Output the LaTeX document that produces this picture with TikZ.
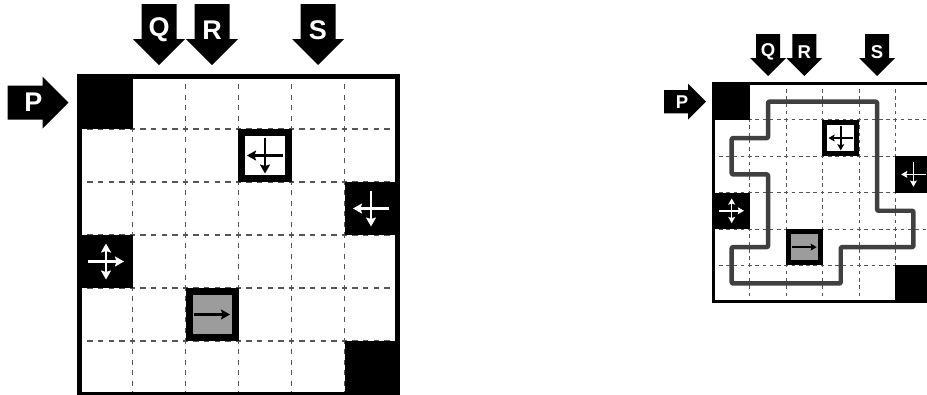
\documentclass[tikz,border=0pt]{standalone}
\usepackage{fontspec}
\setsansfont{Liberation Sans}
\usetikzlibrary{arrows.meta}
\definecolor{tileGray}{HTML}{9C9C9C}
\definecolor{routeGray}{HTML}{404040}
\definecolor{gridDash}{HTML}{555555}
\tikzset{
  gridline/.style={draw=gridDash, line width=1.1pt, dash pattern=on 5.3pt off 5.3pt, dash phase=2.65pt},
  framebox/.style={draw=black, line width=7pt},
  movearrow/.style={line width=2.3pt, >={Stealth[length=9pt,width=10pt,inset=1.5pt]}},
  signlabel/.style={text=white, font=\sffamily\bfseries\fontsize{27}{27}\selectfont, inner sep=0pt},
  route/.style={draw=routeGray, line width=6.5pt, line join=round, rounded corners=1.5pt}
}
% one board, cell = 53 units, origin at its top left corner
\newcommand\board[1]{%
  \fill[white] (0,0) rectangle (318,318);
  \foreach \k in {1,...,5} {
    \draw[gridline] (\k*53,0) -- (\k*53,318);
    \draw[gridline] (0,\k*53) -- (318,\k*53);
  }
  % dark cells
  \fill (0,0) rectangle (53,53);
  \fill (265,106) rectangle (318,159);
  \fill (0,159) rectangle (53,212);
  \fill (265,265) rectangle (318,318);
  % framed cells
  \filldraw[framebox, fill=white] (162,56.5) rectangle (208.5,102.5);
  \filldraw[framebox, fill=tileGray] (109.5,215.5) rectangle (155.5,261.5);
  % moves
  \draw[movearrow, ->] (203.5,79.5) -- (167.5,79.5);
  \draw[movearrow, ->] (185.5,61.5) -- (185.5,97.5);
  \draw[movearrow, ->, white] (309.5,132.5) -- (273.5,132.5);
  \draw[movearrow, ->, white] (291.5,114.5) -- (291.5,150.5);
  \draw[movearrow, ->, white] (8.5,185.5) -- (44.5,185.5);
  \draw[movearrow, <->, white] (26.5,167.5) -- (26.5,203.5);
  \draw[movearrow, ->] (114.5,238.5) -- (150.5,238.5);
  \draw[line width=5pt] (0,0) rectangle (318,318);
  % entry signs
  \foreach \x/\lbl in {79.5/Q,132.5/R,238.5/S} {
    \fill (\x-17.5,-72) -- (\x+17.5,-72) -- (\x+17.5,-37) -- (\x+26,-37)
      -- (\x,-11) -- (\x-26,-37) -- (\x-17.5,-37) -- cycle;
    \node[signlabel] (#1-\lbl) at (\x,-46) {\lbl};
  }
  \fill (-72,9.5) -- (-37,9.5) -- (-37,0.5) -- (-11,26.5) -- (-37,52.5)
    -- (-37,43.5) -- (-72,43.5) -- cycle;
  \node[signlabel] (#1-P) at (-46,26.5) {P};
}

\begin{document}
\begin{tikzpicture}[x=1pt, y=-1pt]
  \useasboundingbox (0,0) rectangle (927,394);
  \begin{scope}[transform canvas={shift={(79.5,76)}}]
    \board{left}
  \end{scope}
  \begin{scope}[transform canvas={shift={(713.5,83.5)}, scale=0.686}]
    \board{right}
    \draw[route] (79.5,26.5) -- (238.5,26.5) -- (238.5,185.5) -- (291.5,185.5)
      -- (291.5,238.5) -- (185.5,238.5) -- (185.5,291.5) -- (26.5,291.5)
      -- (26.5,238.5) -- (79.5,238.5) -- (79.5,132.5) -- (26.5,132.5)
      -- (26.5,79.5) -- (79.5,79.5) -- cycle;
  \end{scope}
\end{tikzpicture}
\end{document}
